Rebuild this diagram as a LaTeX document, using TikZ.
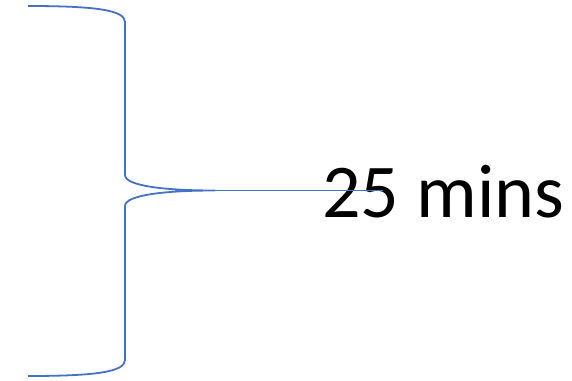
\documentclass[tikz,border=0pt]{standalone}
\usepackage{fontspec}
\setmainfont{Carlito}
\begin{document}
\begin{tikzpicture}[
    x=1pt, y=-1pt,
    brace/.style={draw=braceblue, line width=1.8pt, line join=round},
    leader/.style={draw=braceblue, line width=0.7pt},
    label/.style={inner sep=0pt, font=\fontsize{76}{90}\selectfont}
]
\definecolor{braceblue}{HTML}{4472C4}
\useasboundingbox (0,0) rectangle (572,380);

% Klammer
\coordinate (top) at (28,6);
\coordinate (tip) at (215,190.5);
\coordinate (bottom) at (28,376);
\draw[brace] (top) .. controls (95,6) and (125,10) .. (125,22)
    -- (125,175) .. controls (125,186) and (165,190.5) .. (tip)
    .. controls (165,190.5) and (125,195) .. (125,206)
    -- (125,360) .. controls (125,372) and (95,376) .. (bottom);

% Beschriftung
\node[label, anchor=base west] (time) at (322,217) {25 mins};
\coordinate (lineend) at (383,190.5);
\draw[leader] (tip) -- (lineend);
\end{tikzpicture}
\end{document}
